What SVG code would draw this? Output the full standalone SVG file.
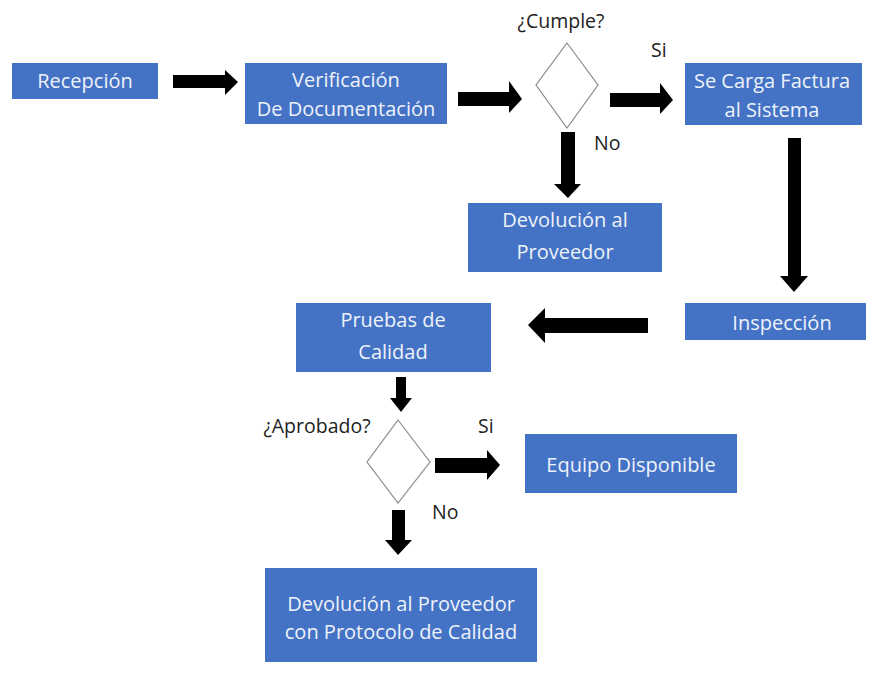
<svg xmlns="http://www.w3.org/2000/svg" width="869" height="680" viewBox="0 0 869 680">
<style>
.box{fill:#4472C4;}
.t{font-family:"Open Sans","Liberation Sans",sans-serif;font-size:20px;fill:#EEF2FA;text-anchor:middle;}
.l{font-family:"Open Sans","Liberation Sans",sans-serif;font-size:19.5px;fill:#222;}
.dia{fill:#fff;stroke:#8a8a8a;stroke-width:1.2;}
.arr{fill:#000;}
</style>
<rect width="869" height="680" fill="#fff"/>
<g id="recepcion"><rect class="box" x="12" y="63" width="146" height="36"/><text class="t" x="85" y="88">Recepción</text></g>
<g id="verificacion"><rect class="box" x="245" y="63" width="202" height="61"/><text class="t" x="346" y="87">Verificación</text><text class="t" x="346" y="116">De Documentación</text></g>
<g id="cumple"><polygon class="dia" points="567,43 598,85 567,128 536,85"/><text class="l" x="561" y="28" text-anchor="middle">¿Cumple?</text></g>
<g id="carga"><rect class="box" x="685" y="63" width="177" height="62"/><text class="t" x="772" y="88">Se Carga Factura</text><text class="t" x="772" y="117">al Sistema</text></g>
<g id="devolucion1"><rect class="box" x="468" y="203" width="194" height="69"/><text class="t" x="565" y="227">Devolución al</text><text class="t" x="565" y="259">Proveedor</text></g>
<g id="inspeccion"><rect class="box" x="685" y="303" width="181" height="37"/><text class="t" x="782" y="330">Inspección</text></g>
<g id="pruebas"><rect class="box" x="296" y="303" width="195" height="69"/><text class="t" x="393" y="327">Pruebas de</text><text class="t" x="393" y="359">Calidad</text></g>
<g id="aprobado"><polygon class="dia" points="398,420 430,462 398,503 367,462"/><text class="l" x="317" y="433" text-anchor="middle">¿Aprobado?</text></g>
<g id="equipo"><rect class="box" x="525" y="434" width="212" height="59"/><text class="t" x="631" y="472">Equipo Disponible</text></g>
<g id="devolucion2"><rect class="box" x="265" y="568" width="272" height="94"/><text class="t" x="401" y="611">Devolución al Proveedor</text><text class="t" x="401" y="639">con Protocolo de Calidad</text></g>
<g id="connectors">
<polygon class="arr" points="173,75 225,75 225,70 238,82 225,95 225,88 173,88"/>
<polygon class="arr" points="458,92 509,92 509,81 522,99 509,113 509,106 458,106"/>
<polygon class="arr" points="610,93 660,93 660,83 673,100 660,114 660,107 610,107"/>
<polygon class="arr" points="561,132 575,132 575,184 581,184 568,198 554,184 561,184"/>
<polygon class="arr" points="788,138 801,138 801,276 808,276 794,292 780,276 788,276"/>
<polygon class="arr" points="648,318 545,318 545,308 528,325 545,343 545,333 648,333"/>
<polygon class="arr" points="396,377 406,377 406,398 412,398 401,412 390,398 396,398"/>
<polygon class="arr" points="435,458 487,458 487,450 500,465 487,480 487,473 435,473"/>
<polygon class="arr" points="392,510 405,510 405,540 412,540 398,555 385,540 392,540"/>
<text class="l" x="651" y="57">Si</text>
<text class="l" x="594" y="150">No</text>
<text class="l" x="478" y="433">Si</text>
<text class="l" x="432" y="519">No</text>
</g>
</svg>
